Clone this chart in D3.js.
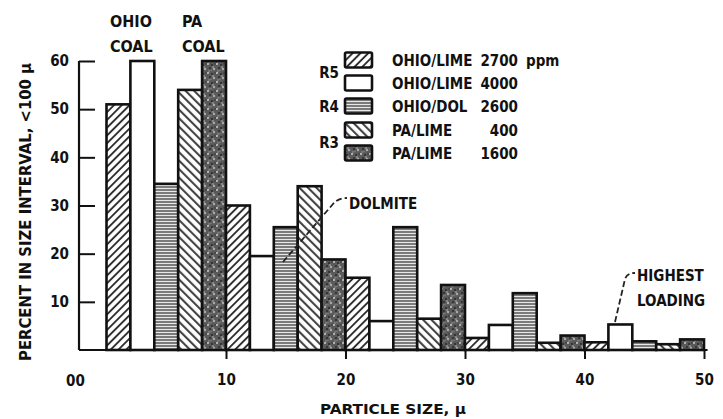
<!DOCTYPE html>
<html>
<head>
<meta charset="utf-8">
<script src="https://cdn.jsdelivr.net/npm/d3@7"></script>
<style>
  html, body { margin: 0; padding: 0; background: #fff; }
  svg { display: block; }
  text { font-family: "DejaVu Sans Condensed", "Liberation Sans Narrow", sans-serif; font-weight: bold; fill: #111; }
</style>
</head>
<body>
<svg id="chart" width="723" height="419"></svg>
<script>
// ---- data ----
const groupStarts = [0, 10, 20, 30, 40];          // particle size group start (μ)
const seriesNames = ["OHIO/LIME", "OHIO/LIME", "OHIO/DOL", "PA/LIME", "PA/LIME"];
const seriesConc = ["2700", "4000", "2600", "400", "1600"];
const seriesUnit = ["ppm", "", "", "", ""];
const ohioLime2700 = [51, 30, 15, 2.5, 1.6];
const ohioLime4000 = [60, 19.5, 6, 5.2, 5.3];
const ohioDol2600  = [34.5, 25.5, 25.5, 11.8, 1.8];
const paLime400    = [54, 34, 6.5, 1.5, 1.2];
const paLime1600   = [60, 18.8, 13.5, 3, 2.2];
const runLabels = ["R5", "R4", "R3"];
const yTicks = [10, 20, 30, 40, 50, 60];
const xTicks = [10, 20, 30, 40, 50];
const xOriginLabel = "00";
const barWidth = 2; // μ per bar

const seriesValues = [ohioLime2700, ohioLime4000, ohioDol2600, paLime400, paLime1600];
const fills = ["url(#hatchF)", "#fff", "url(#horiz)", "url(#hatchB)", "url(#speck)"];

const svg = d3.select("#chart");
const defs = svg.append("defs");

// patterns
const pF = defs.append("pattern").attr("id", "hatchF").attr("patternUnits", "userSpaceOnUse")
  .attr("width", 5.5).attr("height", 5.5).attr("patternTransform", "rotate(45)");
pF.append("rect").attr("width", 5.5).attr("height", 5.5).attr("fill", "#fff");
pF.append("line").attr("x1", 1).attr("y1", 0).attr("x2", 1).attr("y2", 5.5).attr("stroke", "#222").attr("stroke-width", 1.8);

const pB = defs.append("pattern").attr("id", "hatchB").attr("patternUnits", "userSpaceOnUse")
  .attr("width", 6).attr("height", 6).attr("patternTransform", "rotate(-45)");
pB.append("rect").attr("width", 6).attr("height", 6).attr("fill", "#fff");
pB.append("line").attr("x1", 1).attr("y1", 0).attr("x2", 1).attr("y2", 6).attr("stroke", "#444").attr("stroke-width", 2.2);

const pH = defs.append("pattern").attr("id", "horiz").attr("patternUnits", "userSpaceOnUse")
  .attr("width", 4).attr("height", 3);
pH.append("rect").attr("width", 4).attr("height", 3).attr("fill", "#e8e8e8");
pH.append("line").attr("x1", 0).attr("y1", 1).attr("x2", 4).attr("y2", 1).attr("stroke", "#333").attr("stroke-width", 1.2);

const pS = defs.append("pattern").attr("id", "speck").attr("patternUnits", "userSpaceOnUse")
  .attr("width", 9).attr("height", 9);
pS.append("rect").attr("width", 9).attr("height", 9).attr("fill", "#5a5a5a");
[[1,1,1.1,"#bbb"],[5,2,0.9,"#222"],[7,6,1.2,"#aaa"],[3,5,1,"#2a2a2a"],[2,8,0.8,"#999"],[6,4,0.7,"#ccc"],[8,1,0.8,"#333"],[4,7.5,0.7,"#888"]]
  .forEach(([cx, cy, r, c]) => pS.append("circle").attr("cx", cx).attr("cy", cy).attr("r", r).attr("fill", c));

// scales
const x = d3.scaleLinear().domain([0, 50]).range([106.5, 704]);
const y = d3.scaleLinear().domain([0, 60]).range([350, 61]);
const axisX = x(-2.3);

// bars
const bars = [];
groupStarts.forEach((g, gi) => {
  seriesValues.forEach((vals, si) => {
    bars.push({ x0: g + si * barWidth, v: vals[gi], s: si });
  });
});
svg.append("g").selectAll("rect").data(bars).join("rect")
  .attr("x", d => x(d.x0))
  .attr("width", d => x(d.x0 + barWidth) - x(d.x0))
  .attr("y", d => y(d.v))
  .attr("height", d => y(0) - y(d.v))
  .attr("fill", d => fills[d.s])
  .attr("stroke", "#111").attr("stroke-width", 2.6);

// y axis
const yAxis = svg.append("g").attr("transform", `translate(${axisX},0)`)
  .call(d3.axisLeft(y).tickValues(yTicks).tickSizeInner(-16).tickSizeOuter(0).tickPadding(10));
yAxis.select(".domain").remove();
yAxis.selectAll(".tick line").attr("stroke", "#111").attr("stroke-width", 2);
yAxis.selectAll(".tick text").style("font-size", "15px").attr("fill", "#111");
svg.append("line").attr("x1", axisX).attr("x2", axisX).attr("y1", y(0)).attr("y2", y(60))
  .attr("stroke", "#111").attr("stroke-width", 2.2);

// x axis
const xAxis = svg.append("g").attr("transform", `translate(0,${y(0)})`)
  .call(d3.axisBottom(x).tickValues(xTicks).tickSizeInner(9).tickSizeOuter(0).tickPadding(15));
xAxis.select(".domain").remove();
xAxis.selectAll(".tick line").attr("stroke", "#111").attr("stroke-width", 2);
xAxis.selectAll(".tick text").style("font-size", "15px").attr("fill", "#111");
svg.append("line").attr("x1", axisX).attr("x2", x(50.3)).attr("y1", y(0)).attr("y2", y(0))
  .attr("stroke", "#111").attr("stroke-width", 2.2);
svg.append("text").attr("x", x(-2.6)).attr("y", y(0) + 36).attr("text-anchor", "middle")
  .style("font-size", "15px").text(xOriginLabel);

// axis titles
svg.append("text").attr("x", 393).attr("y", 414).attr("text-anchor", "middle")
  .style("font-size", "14px").attr("textLength", 146).attr("lengthAdjust", "spacingAndGlyphs")
  .text("PARTICLE SIZE, μ");
svg.append("text").attr("transform", "translate(31,212) rotate(-90)").attr("text-anchor", "middle")
  .style("font-size", "15px").attr("textLength", 298).attr("lengthAdjust", "spacingAndGlyphs")
  .text("PERCENT IN SIZE INTERVAL, <100 μ");

// coal labels
const coal = [["OHIO", "COAL", 110], ["PA", "COAL", 182]];
coal.forEach(([a, b, lx]) => {
  svg.append("text").attr("x", lx).attr("y", 27).style("font-size", "16px").text(a);
  svg.append("text").attr("x", lx).attr("y", 52).style("font-size", "16px").text(b);
});

// legend
const rowY = [60, 83, 106, 130, 153];
const lg = svg.append("g");
seriesNames.forEach((n, i) => {
  lg.append("rect").attr("x", 345).attr("y", rowY[i] - 7.5).attr("width", 27).attr("height", 15)
    .attr("rx", 1.5).attr("fill", fills[i]).attr("stroke", "#111").attr("stroke-width", 2.6);
  lg.append("text").attr("x", 392).attr("y", rowY[i] + 6).style("font-size", "15px").text(n);
  lg.append("text").attr("x", 518).attr("y", rowY[i] + 6).attr("text-anchor", "end").style("font-size", "15px").text(seriesConc[i]);
  if (seriesUnit[i]) lg.append("text").attr("x", 526).attr("y", rowY[i] + 6).style("font-size", "15px").text(seriesUnit[i]);
});
const runY = [(rowY[0] + rowY[1]) / 2, rowY[2], (rowY[3] + rowY[4]) / 2];
runLabels.forEach((r, i) => {
  lg.append("text").attr("x", 339).attr("y", runY[i] + 6).attr("text-anchor", "end").style("font-size", "15px").text(r);
});

// annotations
svg.append("path").attr("d", "M283,262 L333,204 Q338,198 347,198")
  .attr("fill", "none").attr("stroke", "#222").attr("stroke-width", 1.8).attr("stroke-dasharray", "6,3");
svg.append("text").attr("x", 349).attr("y", 209).style("font-size", "15px").text("DOLMITE");
svg.append("path").attr("d", "M615,322 L625,279 Q627,273 635,273")
  .attr("fill", "none").attr("stroke", "#222").attr("stroke-width", 1.8).attr("stroke-dasharray", "6,3");
svg.append("text").attr("x", 637).attr("y", 281).style("font-size", "15px").text("HIGHEST");
svg.append("text").attr("x", 637).attr("y", 306).style("font-size", "15px").text("LOADING");
</script>
</body>
</html>
